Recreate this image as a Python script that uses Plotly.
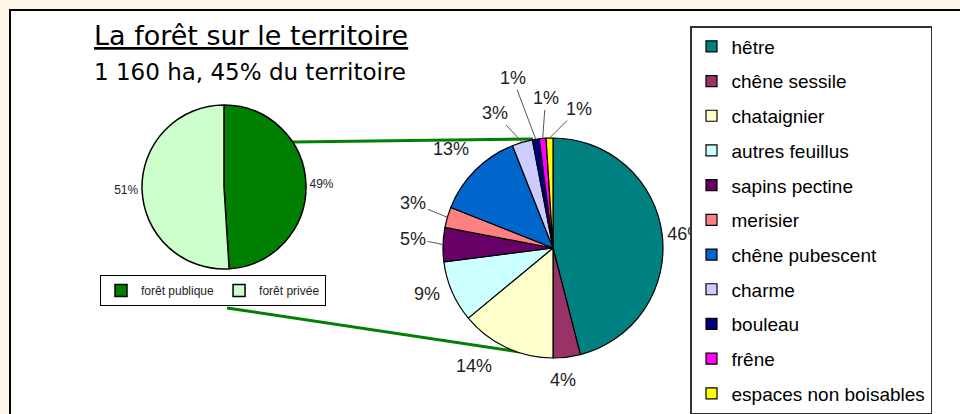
import math
import plotly.graph_objects as go

W, H = 960, 414

# ---------------- data ----------------
species = ["hêtre", "chêne sessile", "chataignier", "autres feuillus", "sapins pectine",
           "merisier", "chêne pubescent", "charme", "bouleau", "frêne",
           "espaces non boisables"]
species_share = [46, 4, 14, 9, 5, 3, 13, 3, 1, 1, 1]
species_colors = ["#008080", "#993366", "#FFFFCC", "#CCFFFF", "#660066", "#FF8080",
                  "#0066CC", "#CCCCFF", "#000080", "#FF00FF", "#FFFF00"]

ownership = ["forêt publique", "forêt privée"]
ownership_share = [49, 51]
ownership_colors = ["#008000", "#CCFFCC"]

title_text = "La forêt sur le territoire"
subtitle_text = "1 160 ha, 45% du territoire"

# label placement for the species pie (pixel offset from the slice edge, leader line?)
# None -> the library's own outside label is used
label_offsets = [None, (-4, 23, False), (-32, 18, False), (-25, 2, False), (-30, -6, True),
                 (-34, -14, True), (-24, -21, False), (-27, -29, True), (-23, -61, True),
                 (3, -40, True), (29, -29, True)]

BG = "#FFF7E9"
ARIAL = "Liberation Sans, Arial, sans-serif"


def px(x):
    return x / W


def py(y):
    return 1 - y / H


# pie geometry (pixels)
small_c, small_r = (224, 187), 82
big_c, big_r = (553, 248), 110

fig = go.Figure()

fig.add_trace(go.Pie(
    labels=ownership, values=ownership_share, sort=False, direction="clockwise",
    rotation=0,
    marker=dict(colors=ownership_colors, line=dict(color="black", width=1.5)),
    textposition="outside", textinfo="percent",
    outsidetextfont=dict(family=ARIAL, size=12, color="#222"),
    domain=dict(x=[px(small_c[0] - small_r), px(small_c[0] + small_r)],
                y=[py(small_c[1] + small_r), py(small_c[1] - small_r)]),
    showlegend=True, legend="legend2", hoverinfo="label+percent",
))

templates = ["%{percent:.0%}" if o is None else "" for o in label_offsets]
fig.add_trace(go.Pie(
    labels=species, values=species_share, sort=False, direction="clockwise",
    rotation=0,
    marker=dict(colors=species_colors, line=dict(color="black", width=1.2)),
    textposition="outside", texttemplate=templates,
    outsidetextfont=dict(family=ARIAL, size=18, color="#222"),
    domain=dict(x=[px(big_c[0] - big_r), px(big_c[0] + big_r)],
                y=[py(big_c[1] + big_r), py(big_c[1] - big_r)]),
    showlegend=False, hoverinfo="label+percent",
))

# legend entries for the species pie (one per label, so spacing can be set)
for name, col in zip(species, species_colors):
    fig.add_trace(go.Scatter(
        x=[None], y=[None], mode="markers", name=name, legendgroup=name,
        marker=dict(symbol="square", size=11, color=col, line=dict(color="black", width=1.2)),
        showlegend=True, legend="legend", hoverinfo="skip",
    ))

shapes = [
    # white panel with black frame
    dict(type="rect", xref="paper", yref="paper", x0=px(10), y0=py(440), x1=px(990), y1=py(10),
         fillcolor="white", line=dict(color="black", width=2), layer="below"),
    # connector lines between the two pies
    dict(type="line", xref="paper", yref="paper", x0=px(224), y0=py(143), x1=px(533), y1=py(139),
         line=dict(color="#008000", width=3), layer="below"),
    dict(type="line", xref="paper", yref="paper", x0=px(227), y0=py(308), x1=px(520), y1=py(352),
         line=dict(color="#008000", width=3), layer="below"),
]

annotations = [
    dict(text="<u>" + title_text + "</u>", xref="paper", yref="paper", x=px(251), y=py(36),
         xanchor="center", yanchor="middle", showarrow=False,
         font=dict(family="DejaVu Sans, sans-serif", size=27, color="black")),
    dict(text=subtitle_text, xref="paper", yref="paper", x=px(250), y=py(72),
         xanchor="center", yanchor="middle", showarrow=False,
         font=dict(family="DejaVu Sans, sans-serif", size=23, color="black")),
]

# percentage labels placed from the slice mid-angles of the data
total = sum(species_share)
cum = 0.0
for v, off in zip(species_share, label_offsets):
    mid = (cum + v / 2) / total
    cum += v
    if off is None:
        continue
    theta = 2 * math.pi * mid
    ex = big_c[0] + big_r * math.sin(theta)
    ey = big_c[1] - big_r * math.cos(theta)
    dx, dy, leader = off
    annotations.append(dict(
        text=f"{v}%", xref="paper", yref="paper", x=px(ex), y=py(ey),
        showarrow=True, arrowhead=0, arrowwidth=1, arrowcolor="#555", standoff=0,
        ax=dx, ay=dy, xanchor="center", yanchor="middle",
        arrowsize=1 if leader else 0.01, opacity=1,
        font=dict(family=ARIAL, size=18, color="#222"),
    ) if leader else dict(
        text=f"{v}%", xref="paper", yref="paper", x=px(ex + dx), y=py(ey + dy),
        showarrow=False, xanchor="center", yanchor="middle",
        font=dict(family=ARIAL, size=18, color="#222"),
    ))

fig.update_layout(
    width=W, height=H, margin=dict(l=0, r=0, t=0, b=0),
    paper_bgcolor=BG, plot_bgcolor="rgba(0,0,0,0)",
    xaxis=dict(visible=False), yaxis=dict(visible=False),
    shapes=shapes, annotations=annotations,
    legend=dict(x=px(690), y=py(30), xanchor="left", yanchor="top",
                bgcolor="white", bordercolor="#333", borderwidth=1.5,
                font=dict(family=ARIAL, size=19, color="black"),
                tracegroupgap=7, itemsizing="trace"),
    legend2=dict(orientation="h", x=px(213), y=py(275), xanchor="center", yanchor="top",
                 bgcolor="white", bordercolor="black", borderwidth=1,
                 font=dict(family=ARIAL, size=12, color="#222")),
)

fig.write_html(
    "out.html",
    config={"displayModeBar": False},
    post_script="document.body.style.margin='0';document.body.style.background='" + BG + "';",
)
